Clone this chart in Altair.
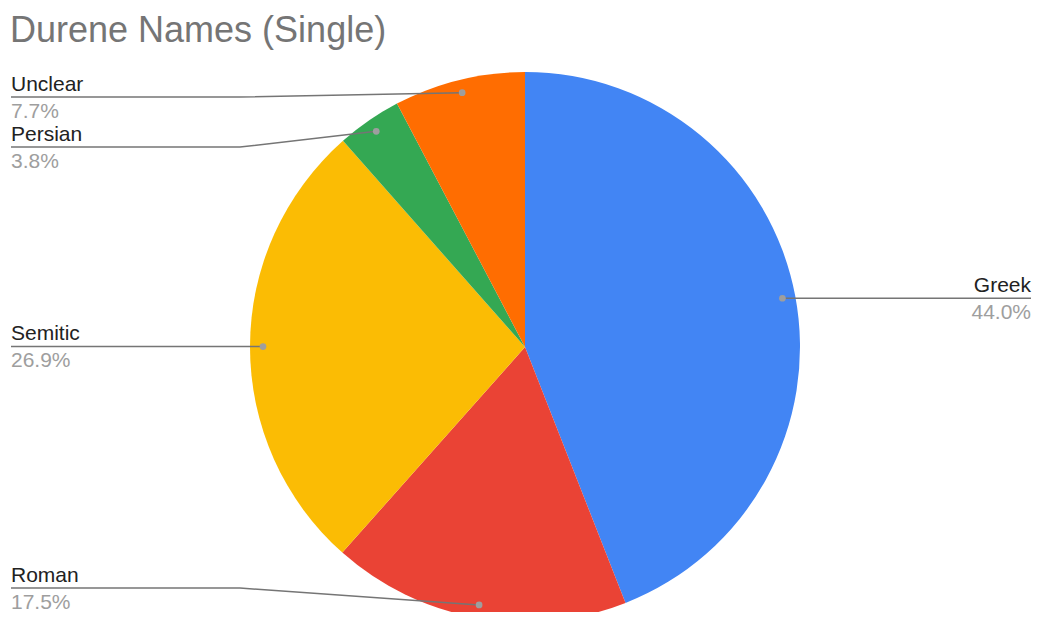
import math
import altair as alt
import pandas as pd

# ---- data ----
categories = ["Greek", "Roman", "Semitic", "Persian", "Unclear"]
shares = [44.0, 17.5, 26.9, 3.8, 7.7]
colors = ["#4285F4", "#EA4335", "#FBBC04", "#34A853", "#FF6D01"]

# ---- layout (view pixel space) ----
W, H = 1024, 546
PAD_TOP = 58
CX, CY = 517, 281
R = 275
R_DOT = 262
GAP = 50
LEFT_X, RIGHT_X = 3, 1023
FONT = "Liberation Sans"

total = sum(shares)
rows = []
cum = 0.0
for i, (c, v) in enumerate(zip(categories, shares)):
    a0 = cum / total * 2 * math.pi
    cum += v
    a1 = cum / total * 2 * math.pi
    mid = (a0 + a1) / 2
    rows.append(dict(idx=i, category=c, share=v,
                     dotX=CX + R_DOT * math.sin(mid),
                     dotY=CY - R_DOT * math.cos(mid),
                     side="right" if math.sin(mid) > 0 else "left"))

# label placement: start at the dot's height, keep inside the drawable span, spread apart
lo, hi = CY - R + 25, H - 24
for side in ("left", "right"):
    grp = sorted([r for r in rows if r["side"] == side], key=lambda r: r["dotY"])
    prev = None
    for r in grp:
        y = min(max(r["dotY"], lo), hi)
        if prev is not None and y < prev + GAP:
            y = prev + GAP
        r["labelY"] = y
        prev = y
    nxt = None
    for r in reversed(grp):
        if r["labelY"] > hi:
            r["labelY"] = hi
        if nxt is not None and r["labelY"] > nxt - GAP:
            r["labelY"] = nxt - GAP
        nxt = r["labelY"]
    for r in grp:
        r["labelX"] = LEFT_X if side == "left" else RIGHT_X
        r["elbowX"] = CX - (R + 10) if side == "left" else CX + (R + 10)

df = pd.DataFrame(rows)

line_rows = []
for r in rows:
    pts = [(r["labelX"], r["labelY"]), (r["elbowX"], r["labelY"]), (r["dotX"], r["dotY"])]
    for s, (px, py) in enumerate(pts):
        line_rows.append(dict(category=r["category"], step=s, px=px, py=py))
lines_df = pd.DataFrame(line_rows)

xs = alt.Scale(domain=[0, W], nice=False, zero=False)
ys = alt.Scale(domain=[0, H], reverse=True, nice=False, zero=False)

pie = alt.Chart(df).mark_arc(outerRadius=R).encode(
    theta=alt.Theta("share:Q", stack=True),
    color=alt.Color("category:N", scale=alt.Scale(domain=categories, range=colors), legend=None),
    order=alt.Order("idx:Q"),
    x=alt.value(CX),
    y=alt.value(CY),
)

leaders = alt.Chart(lines_df).mark_line(color="#757575", strokeWidth=1.5).encode(
    x=alt.X("px:Q", scale=xs, axis=None),
    y=alt.Y("py:Q", scale=ys, axis=None),
    detail="category:N",
    order=alt.Order("step:Q"),
)

dots = alt.Chart(df).mark_circle(size=45, color="#9E9E9E", opacity=1).encode(
    x=alt.X("dotX:Q", scale=xs, axis=None),
    y=alt.Y("dotY:Q", scale=ys, axis=None),
)

base = alt.Chart(df).transform_joinaggregate(tot="sum(share)").transform_calculate(
    pct="format(datum.share / datum.tot, '.1%')"
)

def labels(side, align):
    b = base.transform_filter(alt.datum.side == side)
    name = b.mark_text(align=align, baseline="alphabetic", dy=-6.5, fontSize=21,
                       font=FONT, color="#222222").encode(
        x=alt.X("labelX:Q", scale=xs, axis=None),
        y=alt.Y("labelY:Q", scale=ys, axis=None),
        text="category:N",
    )
    pct = b.mark_text(align=align, baseline="alphabetic", dy=20.5, fontSize=21,
                      font=FONT, color="#9E9E9E").encode(
        x=alt.X("labelX:Q", scale=xs, axis=None),
        y=alt.Y("labelY:Q", scale=ys, axis=None),
        text="pct:N",
    )
    return name + pct

chart = alt.layer(
    pie, leaders, dots, labels("left", "left"), labels("right", "right")
).properties(
    width=W,
    height=H,
    padding={"left": 0, "right": 0, "top": PAD_TOP, "bottom": 0},
    autosize=alt.AutoSizeParams(type="none"),
    title=alt.TitleParams(
        "Durene Names (Single)", anchor="start", frame="group", fontSize=36,
        font=FONT, color="#757575", fontWeight="normal", offset=16, dx=2,
    ),
).configure_view(stroke=None)

chart.save("out.html", embed_options={"renderer": "svg", "actions": False})
